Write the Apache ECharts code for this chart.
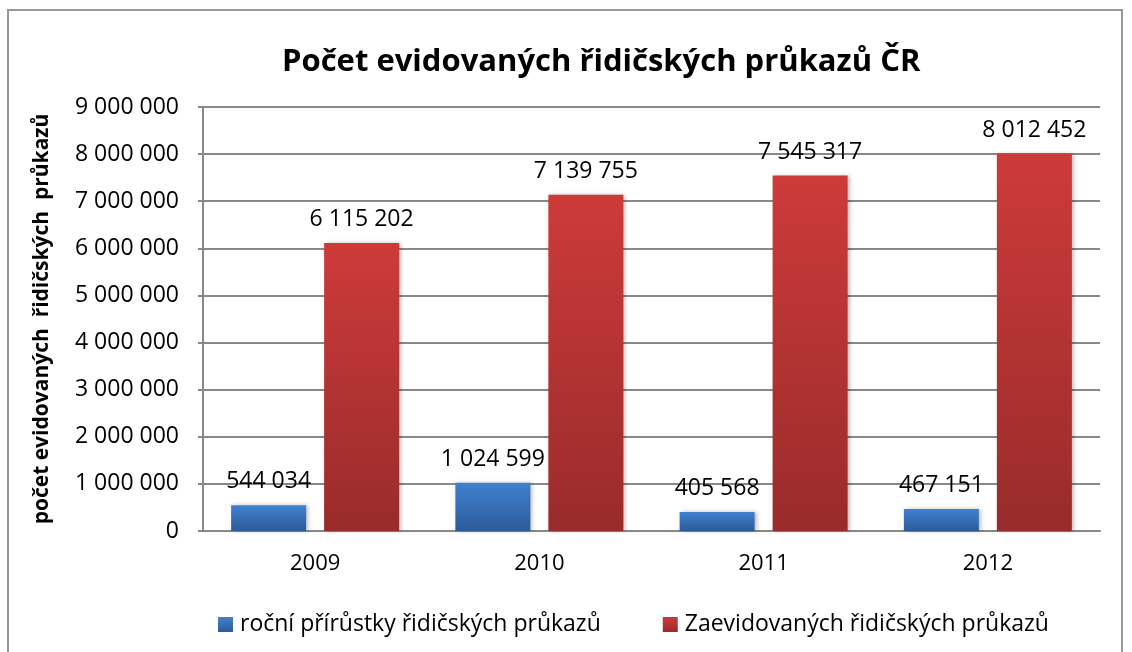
<!DOCTYPE html>
<html>
<head>
<meta charset="utf-8">
<script src="https://cdn.jsdelivr.net/npm/echarts@6/dist/echarts.min.js"></script>
<style>
  html, body { margin: 0; padding: 0; background: #fff; }
  #chart { width: 1132px; height: 652px; }
</style>
</head>
<body>
<div id="chart"></div>
<script>
// data
const years = ['2009', '2010', '2011', '2012'];
const rocniPrirustky = [544034, 1024599, 405568, 467151];
const zaevidovano = [6115202, 7139755, 7545317, 8012452];

const FONT = '"Open Sans", sans-serif';

// 1234567 -> "1 234 567"
const fmt = v => String(v).replace(/\B(?=(\d{3})+(?!\d))/g, ' ');

const chart = echarts.init(document.getElementById('chart'));

const blue = new echarts.graphic.LinearGradient(0, 0, 0, 1, [
    { offset: 0, color: '#4181d0' },
    { offset: 1, color: '#2b5b99' }
]);
const red = new echarts.graphic.LinearGradient(0, 0, 0, 1, [
    { offset: 0, color: '#cd3b39' },
    { offset: 1, color: '#992b2b' }
]);

const barLabel = {
    show: true,
    position: 'top',
    distance: 12,
    fontFamily: FONT,
    fontSize: 23,
    color: '#000',
    formatter: p => fmt(p.value)
};

const option = {
    textStyle: { fontFamily: FONT },
    // outer frame of the chart area
    graphic: [{
        type: 'rect',
        shape: { x: 8, y: 10, width: 1114, height: 700 },
        style: { fill: 'none', stroke: '#999', lineWidth: 2 },
        silent: true
    }],
    title: {
        text: 'Počet evidovaných řidičských průkazů ČR',
        left: 277,
        top: 42,
        textStyle: { fontFamily: FONT, fontSize: 31, fontWeight: 'bold', color: '#000' }
    },
    legend: {
        left: 213,
        top: 608,
        icon: 'rect',
        itemWidth: 15,
        itemHeight: 15,
        itemGap: 62,
        textStyle: { fontFamily: FONT, fontSize: 23, color: '#000', padding: [0, 0, 0, 2] },
        data: ['roční přírůstky řidičských průkazů', 'Zaevidovaných řidičských průkazů']
    },
    grid: { left: 203, right: 32, top: 107, bottom: 121 },
    xAxis: {
        type: 'category',
        data: years,
        axisLine: { lineStyle: { color: '#888', width: 2 } },
        axisTick: { show: false },
        axisLabel: { fontFamily: FONT, fontSize: 22, color: '#000', margin: 22 }
    },
    yAxis: {
        type: 'value',
        min: 0,
        max: 9000000,
        interval: 1000000,
        name: 'počet evidovaných  řidičských  průkazů',
        nameLocation: 'middle',
        nameRotate: 90,
        nameGap: 150,
        nameTextStyle: { fontFamily: FONT, fontSize: 21, fontWeight: 'bold', color: '#000' },
        axisLine: { show: true, lineStyle: { color: '#888', width: 2 } },
        axisTick: { show: true, length: 5, lineStyle: { color: '#888', width: 2 } },
        splitLine: { lineStyle: { color: '#888', width: 2 } },
        axisLabel: { fontFamily: FONT, fontSize: 23, color: '#000', margin: 24, formatter: v => fmt(v) }
    },
    series: [
        {
            name: 'roční přírůstky řidičských průkazů',
            type: 'bar',
            data: rocniPrirustky,
            barWidth: 75,
            barGap: '24%',
            itemStyle: { color: blue, shadowBlur: 4, shadowOffsetX: 2, shadowColor: 'rgba(0,0,0,0.25)' },
            label: barLabel
        },
        {
            name: 'Zaevidovaných řidičských průkazů',
            type: 'bar',
            data: zaevidovano,
            barWidth: 75,
            itemStyle: { color: red, shadowBlur: 4, shadowOffsetX: 2, shadowColor: 'rgba(0,0,0,0.25)' },
            label: barLabel
        }
    ]
};

chart.setOption(option);
</script>
</body>
</html>
